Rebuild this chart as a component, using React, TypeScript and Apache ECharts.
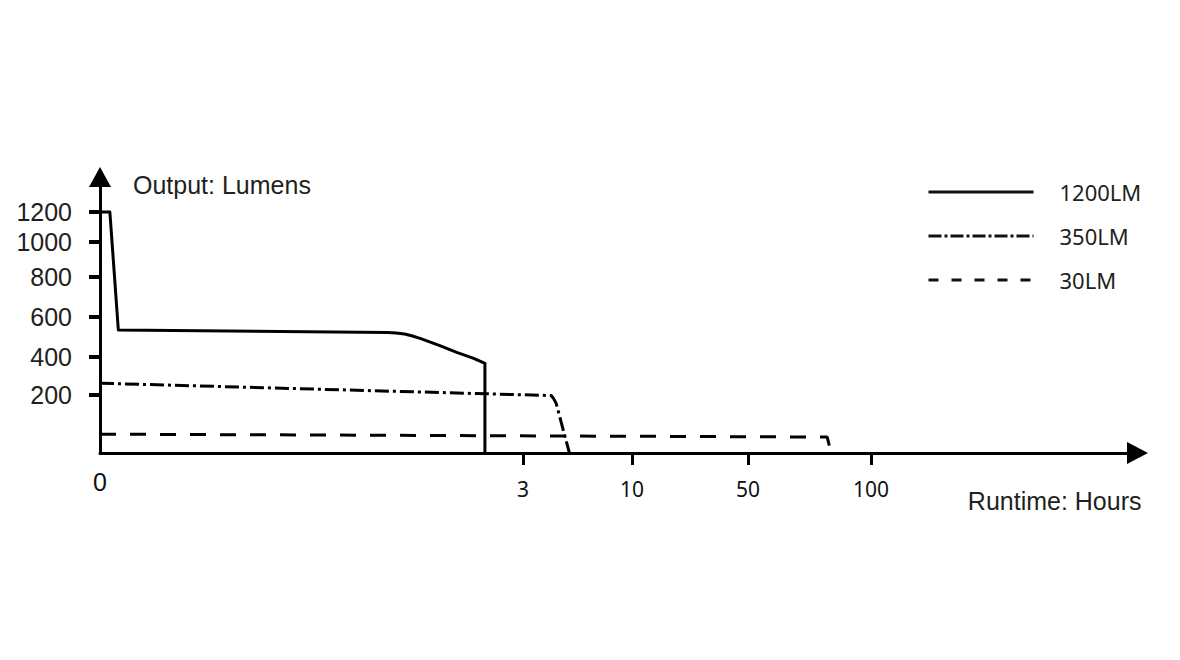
import { useEffect, useRef } from 'react';
import * as echarts from 'echarts';

// ---- data (hours / lumens) ----
const SERIES_NAMES = ['1200LM', '350LM', '30LM'];
const HOURS_1200 = [0, 0.07, 0.13, 2.04, 2.1, 2.16, 2.21, 2.27, 2.41, 2.53, 2.65, 2.73, 2.73];
const LUMENS_1200 = [1200, 1200, 535, 522, 520, 515, 506, 493, 457, 423, 393, 367, 0];
const HOURS_350 = [0, 4.81, 4.94, 5.13, 5.98];
const LUMENS_350 = [262, 198, 190, 171, 0];
const HOURS_30 = [0, 82.2, 83.8];
const LUMENS_30 = [65, 55, 0];

const X_TICK_LABELS = [0, 3, 10, 50, 100];
const X_TICK_MARKS = [3, 10, 50, 100];
const Y_TICK_LABELS = [200, 400, 600, 800, 1000, 1200];

// ---- the drawing's own (non-linear) axis scales ----
const X_SCALE_VALUES = [0, 3, 10, 50, 100];
const X_SCALE_UNITS = [0, 423, 532, 648, 771];
const Y_SCALE_VALUES = [0, 200, 400, 600, 800, 1000, 1200];
const Y_SCALE_UNITS = [0, 58, 96, 136, 176, 211, 241];

function piecewise(v: number, vals: number[], units: number[]): number {
  for (let i = 1; i < vals.length; i++) {
    if (v <= vals[i] || i === vals.length - 1) {
      const t = (v - vals[i - 1]) / (vals[i] - vals[i - 1]);
      return units[i - 1] + t * (units[i] - units[i - 1]);
    }
  }
  return 0;
}
const sx = (h: number) => piecewise(h, X_SCALE_VALUES, X_SCALE_UNITS);
const sy = (l: number) => piecewise(l, Y_SCALE_VALUES, Y_SCALE_UNITS);
const key = (v: number) => v.toFixed(2);

const xLabelMap: Record<string, number> = {};
X_TICK_LABELS.forEach((v) => (xLabelMap[key(sx(v))] = v));
const yLabelMap: Record<string, number> = {};
Y_TICK_LABELS.forEach((v) => (yLabelMap[key(sy(v))] = v));

const TEXT = '#231f20';

export default function App() {
  const ref = useRef<HTMLDivElement>(null);
  useEffect(() => {
    if (!ref.current) return;
    const chart = echarts.init(ref.current, null, { renderer: 'svg' });
    const mk = (hs: number[], ls: number[]) => hs.map((h, i) => [sx(h), sy(ls[i])]);
    const lineBase = { type: 'line', showSymbol: false, symbol: 'none', clip: false, smooth: false };
    chart.setOption({
      animation: false,
      backgroundColor: '#ffffff',
      grid: { left: 100, right: 42.5, top: 177, bottom: 207, containLabel: false, outerBoundsMode: 'none' },
      legend: {
        orient: 'vertical',
        left: 927,
        top: 181,
        padding: 0,
        itemWidth: 105,
        itemHeight: 22,
        itemGap: 22,
        itemStyle: { opacity: 0, borderWidth: 0 },
        data: [
          { name: SERIES_NAMES[0], lineStyle: { type: 'solid', width: 3, color: '#111', opacity: 1 } },
          { name: SERIES_NAMES[1], lineStyle: { type: [13, 3, 3, 3], width: 3, color: '#111', opacity: 1 } },
          { name: SERIES_NAMES[2], lineStyle: { type: [10, 13], width: 3, color: '#111', opacity: 1 } },
        ],
        textStyle: {
          fontFamily: 'Noto Sans',
          fontSize: 22,
          lineHeight: 22,
          color: TEXT,
          padding: [0, 0, 0, 21],
        },
      },
      xAxis: {
        type: 'value',
        min: 0,
        max: 1037.5,
        name: 'Runtime: Hours',
        nameLocation: 'end',
        nameGap: 4,
        nameTextStyle: {
          fontFamily: 'Liberation Sans',
          fontSize: 25,
          color: TEXT,
          align: 'right',
          verticalAlign: 'top',
          padding: [35, 0, 0, 0],
        },
        axisLine: {
          show: true,
          onZero: false,
          symbol: ['none', 'triangle'],
          symbolSize: [22, 21],
          lineStyle: { color: '#000', width: 3 },
        },
        axisTick: {
          show: true,
          customValues: X_TICK_MARKS.map(sx),
          length: 12,
          lineStyle: { color: '#000', width: 3 },
        },
        axisLabel: {
          show: true,
          customValues: X_TICK_LABELS.map(sx),
          margin: 25,
          fontFamily: 'Noto Sans',
          fontSize: 21,
          color: '#111',
          formatter: (v: number) => {
            const lab = xLabelMap[key(v)];
            return lab === 0 ? '{z|0}' : String(lab ?? '');
          },
          rich: { z: { fontFamily: 'Liberation Sans', fontSize: 25, lineHeight: 8, color: '#111' } },
        },
        splitLine: { show: false },
      },
      yAxis: {
        type: 'value',
        min: 0,
        max: 276,
        name: 'Output: Lumens',
        nameLocation: 'end',
        nameGap: -8,
        nameTextStyle: {
          fontFamily: 'Liberation Sans',
          fontSize: 25,
          color: TEXT,
          align: 'left',
          verticalAlign: 'middle',
          padding: [0, 0, 0, 33],
        },
        axisLine: {
          show: true,
          onZero: false,
          symbol: ['none', 'triangle'],
          symbolSize: [22, 20],
          lineStyle: { color: '#000', width: 3 },
        },
        axisTick: {
          show: true,
          customValues: Y_TICK_LABELS.map(sy),
          length: 11,
          lineStyle: { color: '#000', width: 4 },
        },
        axisLabel: {
          show: true,
          customValues: Y_TICK_LABELS.map(sy),
          margin: 28,
          fontFamily: 'Liberation Sans',
          fontSize: 25,
          color: TEXT,
          formatter: (v: number) => String(yLabelMap[key(v)] ?? ''),
        },
        splitLine: { show: false },
      },
      series: [
        {
          ...lineBase,
          name: SERIES_NAMES[0],
          data: mk(HOURS_1200, LUMENS_1200),
          lineStyle: { color: '#000', width: 3, type: 'solid', join: 'round' },
          itemStyle: { color: '#000' },
        },
        {
          ...lineBase,
          name: SERIES_NAMES[1],
          data: mk(HOURS_350, LUMENS_350),
          lineStyle: { color: '#000', width: 3, type: [14, 4, 3, 4] },
          itemStyle: { color: '#000' },
        },
        {
          ...lineBase,
          name: SERIES_NAMES[2],
          data: mk(HOURS_30, LUMENS_30),
          lineStyle: { color: '#000', width: 3, type: [16, 14] },
          itemStyle: { color: '#000' },
        },
      ],
    });
    return () => chart.dispose();
  }, []);
  return (
    <div
      ref={ref}
      style={{ position: 'absolute', left: 0, top: 0, width: 1180, height: 660, background: '#fff' }}
    />
  );
}
